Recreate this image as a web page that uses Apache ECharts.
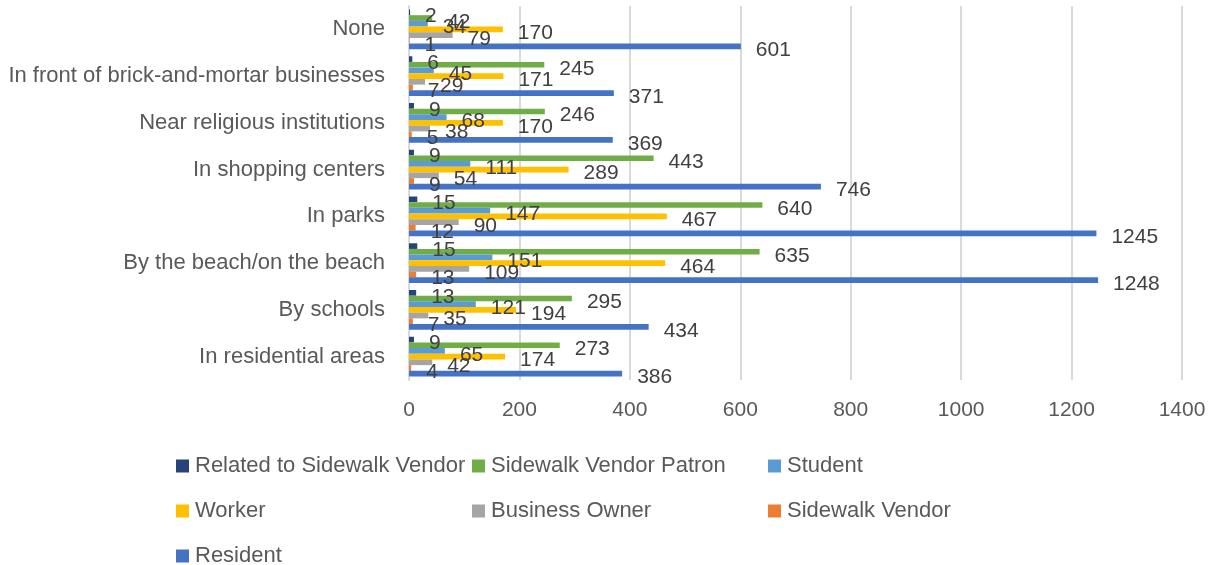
<!DOCTYPE html>
<html>
<head>
<meta charset="utf-8">
<script src="https://cdn.jsdelivr.net/npm/echarts@6/dist/echarts.min.js"></script>
<style>
  html, body { margin: 0; padding: 0; background: #fff; }
  #chart { width: 1215px; height: 565px; }
</style>
</head>
<body>
<div id="chart"></div>
<script>
// categories, top to bottom
const categories = [
  "None",
  "In front of brick-and-mortar businesses",
  "Near religious institutions",
  "In shopping centers",
  "In parks",
  "By the beach/on the beach",
  "By schools",
  "In residential areas"
];
const xTicks = [0, 200, 400, 600, 800, 1000, 1200, 1400];

// values per series, same order as categories
const relatedToVendor = [2, 6, 9, 9, 15, 15, 13, 9];
const vendorPatron = [42, 245, 246, 443, 640, 635, 295, 273];
const student = [34, 45, 68, 111, 147, 151, 121, 65];
const worker = [170, 171, 170, 289, 467, 464, 194, 174];
const businessOwner = [79, 29, 38, 54, 90, 109, 35, 42];
const sidewalkVendor = [1, 7, 5, 9, 12, 13, 7, 4];
const resident = [601, 371, 369, 746, 1245, 1248, 434, 386];

const seriesList = [
  { name: "Related to Sidewalk Vendor", data: relatedToVendor, color: "#264478" },
  { name: "Sidewalk Vendor Patron", data: vendorPatron, color: "#70ad47" },
  { name: "Student", data: student, color: "#5b9bd5" },
  { name: "Worker", data: worker, color: "#ffc000" },
  { name: "Business Owner", data: businessOwner, color: "#a5a5a5" },
  { name: "Sidewalk Vendor", data: sidewalkVendor, color: "#ed7d31" },
  { name: "Resident", data: resident, color: "#4472c4" }
];

const font = "Liberation Sans";
const chart = echarts.init(document.getElementById("chart"));

// legend laid out as a 3-column grid, one legend per item
const legendSpots = [
  [176, 465], [472, 465], [768, 465],
  [176, 510], [472, 510], [768, 510],
  [176, 555]
];
const legends = seriesList.map((s, i) => ({
  data: [s.name],
  left: legendSpots[i][0],
  top: legendSpots[i][1] - 10,
  padding: 0,
  itemWidth: 13,
  itemHeight: 13,
  icon: "rect",
  selectedMode: false,
  textStyle: { fontFamily: font, fontSize: 22, color: "#595959", padding: [0, 0, 0, 1] }
}));

chart.setOption({
  animation: false,
  legend: legends,
  grid: { left: 409, right: 33, top: 6, bottom: 185 },
  xAxis: {
    type: "value",
    min: xTicks[0],
    max: xTicks[xTicks.length - 1],
    interval: xTicks[1] - xTicks[0],
    axisLine: { show: false },
    axisTick: { show: false },
    axisLabel: {
      fontFamily: font, fontSize: 21, color: "#595959", margin: 20,
      formatter: v => String(v)
    },
    splitLine: { lineStyle: { color: "#d9d9d9", width: 2 } }
  },
  yAxis: {
    type: "category",
    inverse: true,
    data: categories,
    axisLine: { show: true, lineStyle: { color: "#d9d9d9", width: 2 } },
    axisTick: { show: false },
    axisLabel: { fontFamily: font, fontSize: 22, color: "#595959", margin: 24 }
  },
  series: seriesList.map(s => ({
    name: s.name,
    type: "bar",
    data: s.data,
    barGap: "0%",
    barCategoryGap: "15%",
    itemStyle: { color: s.color },
    label: {
      show: true,
      position: "right",
      distance: 15,
      offset: [0, 4],
      fontFamily: font,
      fontSize: 21,
      color: "#404040"
    }
  }))
});
</script>
</body>
</html>
